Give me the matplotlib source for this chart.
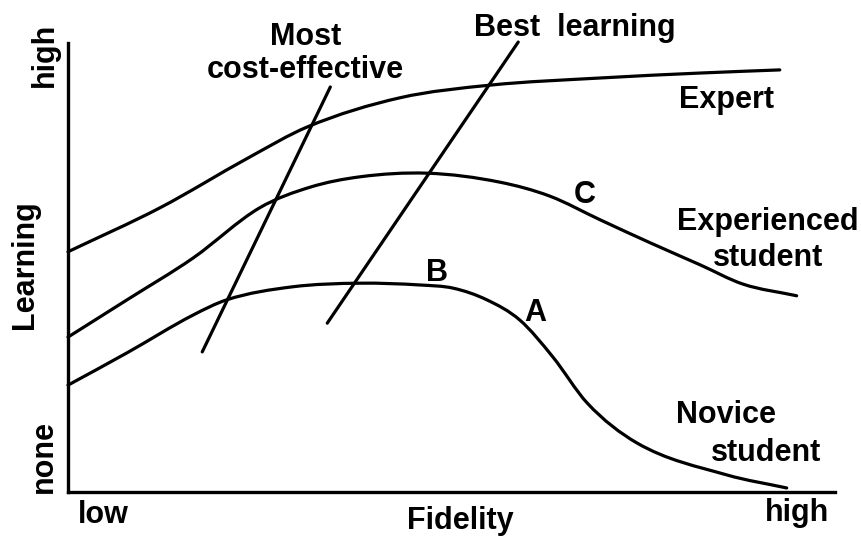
import matplotlib
matplotlib.use("Agg")
import matplotlib.pyplot as plt
from matplotlib.path import Path
from matplotlib.patches import PathPatch

plt.rcParams['font.family'] = ['Liberation Sans', 'DejaVu Sans']

# learning curves (fidelity 0-100, learning 0-100)
expert_x = [0, 12.0, 23.7, 31.2, 43.3, 55.0, 69.4, 82.4, 92.8]
expert_y = [53.5, 63.3, 74.6, 81.3, 87.8, 90.6, 92.2, 93.3, 94.0]

experienced_x = [0, 7.7, 16.3, 25.0, 31.6, 38.1, 46.8, 56.3, 62.8, 69.4, 75.9, 82.4, 88.0, 95.0]
experienced_y = [34.5, 42.8, 52.1, 63.3, 67.9, 70.2, 71.0, 69.0, 65.9, 60.6, 55.5, 50.6, 46.3, 43.7]

novice_x = [0, 7.7, 16.3, 20.7, 29.3, 38.1, 45.9, 50.2, 54.6, 58.9, 63.2, 67.7,
            74.2, 85.9, 93.7]
novice_y = [23.8, 31.0, 39.4, 42.8, 45.7, 46.5, 46.1, 45.4, 42.8, 38.3, 30.1, 19.8,
            10.9, 3.8, 0.9]

# the two slanted "optimum" lines
cost_x = [17.5, 34.2]
cost_y = [31.2, 90.2]
best_x = [33.8, 58.7]
best_y = [37.6, 100.2]

lw = 2.3
fs = 22


def smooth_path(xs, ys):
    # cubic hermite curve through the read points (tangent = mean of secants)
    n = len(xs)
    d = [(ys[i + 1] - ys[i]) / (xs[i + 1] - xs[i]) for i in range(n - 1)]
    m = [d[0]] + [(d[i - 1] + d[i]) / 2 for i in range(1, n - 1)] + [d[-1]]
    verts = [(xs[0], ys[0])]
    codes = [Path.MOVETO]
    for i in range(n - 1):
        h = (xs[i + 1] - xs[i]) / 3
        verts += [(xs[i] + h, ys[i] + m[i] * h),
                  (xs[i + 1] - h, ys[i + 1] - m[i + 1] * h),
                  (xs[i + 1], ys[i + 1])]
        codes += [Path.CURVE4] * 3
    return Path(verts, codes)


fig = plt.figure(figsize=(8.61, 5.37), dpi=100)
ax = fig.add_axes([0.079, 0.0838, 0.8908, 0.8362])
ax.set_xlim(0, 100)
ax.set_ylim(0, 100)

for xs, ys in [(expert_x, expert_y), (experienced_x, experienced_y),
               (novice_x, novice_y)]:
    ax.add_patch(PathPatch(smooth_path(xs, ys), fill=False, ec='black',
                           lw=lw, capstyle='round', clip_on=False))

for xs, ys in [(cost_x, cost_y), (best_x, best_y)]:
    ax.plot(xs, ys, color='black', lw=lw, solid_capstyle='round', clip_on=False)

ax.spines['top'].set_visible(False)
ax.spines['right'].set_visible(False)
ax.spines['left'].set_linewidth(2.4)
ax.spines['bottom'].set_linewidth(2.4)
ax.set_xticks([])
ax.set_yticks([])


def txt(x, y, s, **kw):
    ax.text(x, y, s, fontsize=fs, fontweight='bold', ha='center', va='center',
            clip_on=False, **kw)


txt(31.0, 101.3, "Most")
txt(31.0, 94.0, "cost-effective")
txt(66.1, 103.3, "Best  learning")
txt(85.9, 87.3, "Expert")
txt(67.4, 66.1, "C")
txt(91.3, 60.1, "Experienced")
txt(91.3, 52.1, "student")
txt(48.1, 48.8, "B")
txt(60.9, 39.9, "A")
txt(85.8, 17.1, "Novice")
txt(91.0, 8.7, "student")

txt(4.6, -5.1, "low")
txt(51.2, -6.4, "Fidelity")
txt(95.0, -4.7, "high")
txt(-3.0, 97.3, "high", rotation=90)
txt(-5.6, 50.6, "Learning", rotation=90)
txt(-3.1, 7.8, "none", rotation=90)

plt.savefig("out.png", dpi=100)
